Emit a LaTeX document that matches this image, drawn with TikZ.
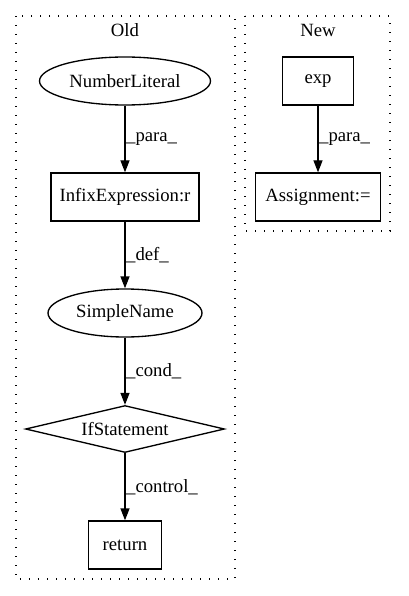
\documentclass[tikz,border=0pt]{standalone}
\usepackage{fontspec}
\setmainfont{Liberation Serif}
\usetikzlibrary{shapes.geometric,arrows.meta}
\begin{document}
\begin{tikzpicture}[x = 1pt, y = -1pt, line width = 1.33pt,
  every node/.style = {font = \fontsize{18.7}{22}\selectfont},
  box/.style = {draw, rectangle, minimum height = 48pt, inner sep = 0pt},
  oval/.style = {draw, ellipse, minimum height = 48pt, inner sep = 0pt},
  cluster/.style = {dash pattern = on 1.4pt off 7.6pt},
  link/.style = {-{Triangle[length = 12pt, width = 9pt]}},
  lbl/.style = {midway, anchor = west, inner sep = 0.5pt}]
\useasboundingbox (0,0) rectangle (408,596);
\pgfmathsetmacro\oldx{125};
\pgfmathsetmacro\newx{318};
\draw[cluster] (16,16) rectangle (235,579);
\draw[cluster] (245,16) rectangle (390,231);
\node (oldlbl) at (\oldx,30) {Old};
\node (newlbl) at (\newx,30) {New};
\node[oval, minimum width = 171pt] (numlit) at (\oldx,81) {NumberLiteral};
\node[box, minimum width = 148pt] (infix) at (\oldx,197) {InfixExpression:r};
\node[oval, minimum width = 154pt] (simple) at (\oldx,313) {SimpleName};
\node[draw, diamond, aspect = 4.2, inner sep = 0pt, minimum width = 199pt, minimum height = 47pt] (ifstmt) at (\oldx,429) {IfStatement};
\node[box, minimum width = 73pt] (ret) at (\oldx,545) {return};
\node[box, minimum width = 71pt] (exp) at (\newx,81) {exp};
\node[box, minimum width = 125pt] (assign) at (\newx,197) {Assignment:=};
\foreach \a/\b/\t in {numlit/infix/para, infix/simple/def, simple/ifstmt/cond, ifstmt/ret/control, exp/assign/para}
  \draw[link] (\a) -- (\b) node[lbl] {\_\t\_};
\end{tikzpicture}
\end{document}
